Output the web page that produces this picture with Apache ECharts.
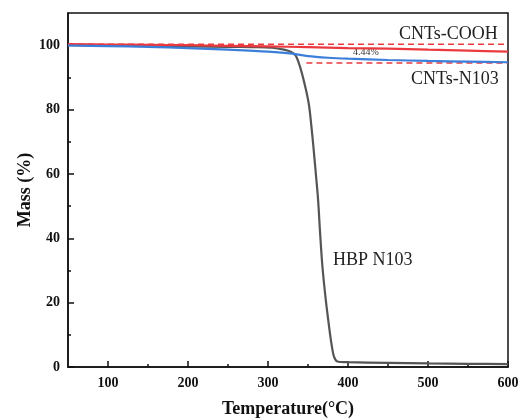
<!DOCTYPE html>
<html>
<head>
<meta charset="utf-8">
<script src="https://cdn.jsdelivr.net/npm/echarts@6/dist/echarts.min.js"></script>
<style>
  html, body { margin: 0; padding: 0; background: #fff; }
  #chart { width: 520px; height: 418px; }
</style>
</head>
<body>
<div id="chart"></div>
<script>
// TGA curves: temperature (°C) vs residual mass (%)
const cntsCooh = [
  [50, 100.3], [100, 100.2], [150, 100.1], [200, 100.0], [250, 99.8], [300, 99.6],
  [350, 99.4], [400, 99.1], [450, 98.9], [500, 98.6], [550, 98.3], [600, 98.0]
];
const cntsN103 = [
  [50, 99.9], [100, 99.7], [150, 99.5], [200, 99.1], [250, 98.6], [300, 98.0],
  [330, 97.4], [350, 96.6], [375, 96.1], [400, 95.8], [450, 95.4], [500, 95.1],
  [550, 94.9], [600, 94.7]
];
const hbpN103 = [
  [50, 100.0], [100, 99.9], [150, 99.8], [200, 99.6], [250, 99.5], [280, 99.4],
  [305, 99.2], [320, 98.6], [329, 97.9], [334.8, 96.7], [341, 92.5], [347.3, 86.3],
  [351.4, 81.1], [354.2, 74.9], [356.7, 68.6], [359.7, 60.3], [362.6, 52.0],
  [365.1, 41.7], [368, 31.3], [372.2, 20.9], [376.3, 12.6], [379.2, 7.4],
  [382.5, 3.2], [386.7, 1.7], [399, 1.5], [450, 1.3], [500, 1.1], [550, 1.0], [600, 0.9]
];
// reference levels bracketing the mass loss
const upperRef = [[50, 100.3], [600, 100.3]];
const lowerRef = [[348, 94.5], [600, 94.5]];
const lossText = '4.44%';

const xMajorTicks = [100, 200, 300, 400, 500, 600];
const xMinorTicks = [150, 250, 350, 450, 550];
const yMajorTicks = [0, 20, 40, 60, 80, 100];
const yMinorTicks = [10, 30, 50, 70, 90];

const serif = '"Liberation Serif", "Times New Roman", serif';
const RED = '#ea3a3f';
const BLUE = '#3c7fda';
const GRAY = '#555555';

const chart = echarts.init(document.getElementById('chart'), null, { renderer: 'canvas' });

const baseX = { type: 'value', min: 50, max: 600, gridIndex: 0, splitLine: { show: false } };
const baseY = { type: 'value', min: 0, max: 110, gridIndex: 0, splitLine: { show: false } };

chart.setOption({
  animation: false,
  backgroundColor: '#ffffff',
  grid: {
    left: 68, right: 12, top: 13, bottom: 51,
    outerBoundsMode: 'none', containLabel: false,
    show: true, borderColor: '#111', borderWidth: 1.5, backgroundColor: 'transparent'
  },
  xAxis: [
    Object.assign({}, baseX, {
      position: 'bottom',
      name: 'Temperature(°C)', nameLocation: 'middle', nameGap: 33, nameMoveOverlap: false,
      nameTextStyle: { fontFamily: serif, fontWeight: 'bold', fontSize: 18, color: '#111' },
      axisLine: { show: true, onZero: false, lineStyle: { color: '#111', width: 1.5 } },
      axisTick: { show: true, inside: true, length: 6, customValues: xMajorTicks, lineStyle: { color: '#111', width: 1.5 } },
      axisLabel: { customValues: xMajorTicks, margin: 9, fontFamily: serif, fontWeight: 'bold', fontSize: 14, color: '#111' }
    }),
    Object.assign({}, baseX, {
      position: 'bottom',
      axisLine: { show: false },
      axisTick: { show: true, inside: true, length: 3, customValues: xMinorTicks, lineStyle: { color: '#111', width: 1.5 } },
      axisLabel: { show: false }
    })
  ],
  yAxis: [
    Object.assign({}, baseY, {
      position: 'left',
      name: 'Mass (%)', nameLocation: 'middle', nameGap: 34, nameRotate: 90, nameMoveOverlap: false,
      nameTextStyle: { fontFamily: serif, fontWeight: 'bold', fontSize: 18, color: '#111' },
      axisLine: { show: true, onZero: false, lineStyle: { color: '#111', width: 1.5 } },
      axisTick: { show: true, inside: true, length: 6, customValues: yMajorTicks, lineStyle: { color: '#111', width: 1.5 } },
      axisLabel: { customValues: yMajorTicks, margin: 8, fontFamily: serif, fontWeight: 'bold', fontSize: 14, color: '#111' }
    }),
    Object.assign({}, baseY, {
      position: 'left',
      axisLine: { show: false },
      axisTick: { show: true, inside: true, length: 3, customValues: yMinorTicks, lineStyle: { color: '#111', width: 1.5 } },
      axisLabel: { show: false }
    })
  ],
  series: [
    {
      name: 'upper', type: 'line', data: upperRef, symbol: 'none', silent: true,
      lineStyle: { color: RED, width: 1.5, type: [6, 4] }, z: 1
    },
    {
      name: 'lower', type: 'line', data: lowerRef, symbol: 'none', silent: true,
      lineStyle: { color: RED, width: 1.5, type: [6, 4] }, z: 1
    },
    {
      name: 'HBP N103', type: 'line', data: hbpN103, symbol: 'none', smooth: 0.3,
      lineStyle: { color: GRAY, width: 2.2 }, z: 2
    },
    {
      name: 'CNTs-COOH', type: 'line', data: cntsCooh, symbol: 'none', smooth: 0.3,
      lineStyle: { color: RED, width: 2.2 }, z: 3
    },
    {
      name: 'CNTs-N103', type: 'line', data: cntsN103, symbol: 'none', smooth: 0.3,
      lineStyle: { color: BLUE, width: 2.2 }, z: 4
    }
  ],
  graphic: [
    { type: 'text', left: 399, top: 25, style: { text: 'CNTs-COOH', font: '18px ' + serif, fill: '#222' } },
    { type: 'text', left: 411, top: 70, style: { text: 'CNTs-N103', font: '18px ' + serif, fill: '#222' } },
    { type: 'text', left: 333, top: 251, style: { text: 'HBP N103', font: '18px ' + serif, fill: '#222' } },
    { type: 'text', left: 353, top: 47, style: { text: lossText, font: '10px ' + serif, fill: '#333' } }
  ]
});
</script>
</body>
</html>
